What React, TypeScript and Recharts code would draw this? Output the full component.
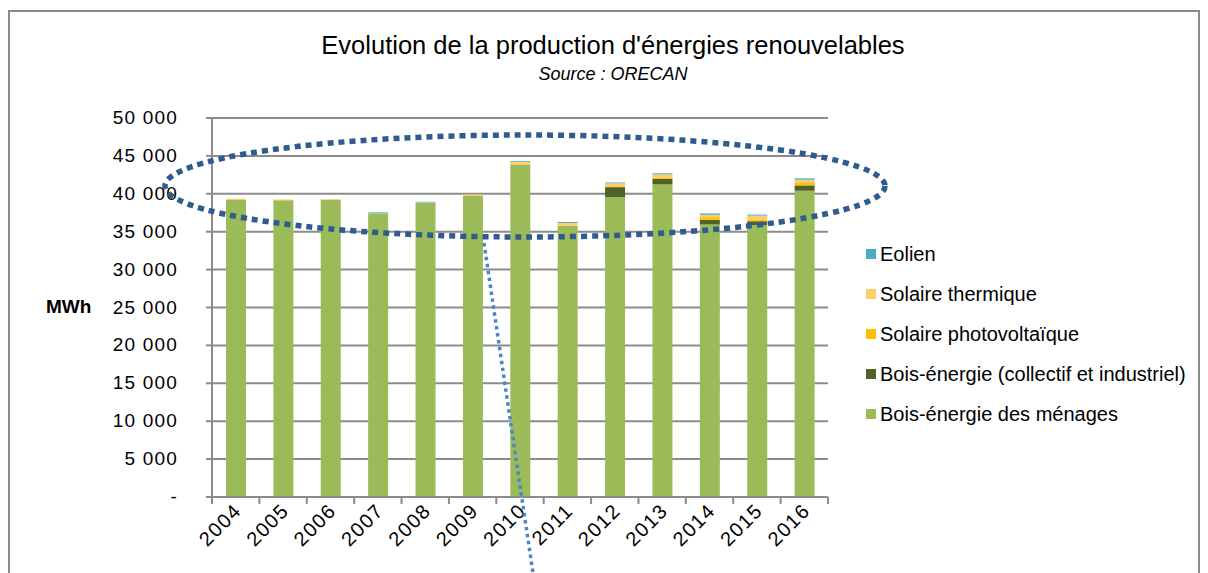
import React from "react";
import { BarChart, Bar, XAxis, YAxis, CartesianGrid } from "recharts";

const years = ["2004", "2005", "2006", "2007", "2008", "2009", "2010", "2011", "2012", "2013", "2014", "2015", "2016"];
const boisMenages = [39250, 39150, 39200, 37400, 38830, 39700, 43850, 35700, 39550, 41250, 35950, 35850, 40400];
const boisCollectif = [0, 0, 0, 0, 0, 0, 0, 50, 1330, 700, 620, 530, 710];
const solairePV = [0, 0, 0, 0, 0, 20, 50, 60, 120, 180, 350, 150, 310];
const solaireThermique = [120, 100, 80, 30, 40, 180, 300, 350, 380, 440, 310, 600, 440];
const eolien = [0, 0, 0, 120, 80, 0, 100, 120, 110, 130, 180, 130, 180];
const yTicks = [0, 5000, 10000, 15000, 20000, 25000, 30000, 35000, 40000, 45000, 50000];

const series = [
  { key: "boisMenages", name: "Bois-énergie des ménages", color: "#9BBB59", values: boisMenages },
  { key: "boisCollectif", name: "Bois-énergie (collectif et industriel)", color: "#4F6228", values: boisCollectif },
  { key: "solairePV", name: "Solaire photovoltaïque", color: "#FFC000", values: solairePV },
  { key: "solaireThermique", name: "Solaire thermique", color: "#FFCC66", values: solaireThermique },
  { key: "eolien", name: "Eolien", color: "#4BACC6", values: eolien },
];

const data = years.map((y, i) => {
  const row: Record<string, string | number> = { year: y };
  series.forEach((s) => {
    row[s.key] = s.values[i];
  });
  return row;
});

const FONT = "'Liberation Sans', Arial, sans-serif";
const W = 1208;
const H = 573;
const PLOT_LEFT = 212;
const PLOT_RIGHT = 828;
const PLOT_TOP = 118;
const PLOT_BOTTOM = 497;
const BAND = (PLOT_RIGHT - PLOT_LEFT) / years.length;

const fmt = (v: number) => (v === 0 ? "-" : v.toLocaleString("en-US").replace(/,/g, " "));

const YTick = (props: any) => {
  const { x, y, payload } = props;
  return (
    <text x={x - 26} y={y} dy={6} textAnchor="end" fontFamily={FONT} fontSize={19} fill="#000" letterSpacing={1.2}>
      {fmt(payload.value)}
    </text>
  );
};

const XTick = (props: any) => {
  const { x, payload, index } = props;
  const tx = x + 7;
  const ty = PLOT_BOTTOM + 15;
  return (
    <g>
      <line x1={x - BAND / 2} y1={PLOT_BOTTOM} x2={x - BAND / 2} y2={PLOT_BOTTOM + 7} stroke="#8c8c8c" strokeWidth={2} />
      {index === years.length - 1 && (
        <line x1={x + BAND / 2} y1={PLOT_BOTTOM} x2={x + BAND / 2} y2={PLOT_BOTTOM + 7} stroke="#8c8c8c" strokeWidth={2} />
      )}
      <text
        x={tx}
        y={ty}
        textAnchor="end"
        fontFamily={FONT}
        fontSize={20}
        letterSpacing={1.4}
        fill="#000"
        transform={`rotate(-45 ${tx} ${ty})`}
      >
        {payload.value}
      </text>
    </g>
  );
};

export default function App() {
  const legendItems = [...series].reverse();
  return (
    <div style={{ position: "absolute", left: 0, top: 0, width: W, height: H, background: "#fff", fontFamily: FONT }}>
      <BarChart
        width={W}
        height={H}
        data={data}
        margin={{ top: PLOT_TOP, right: W - PLOT_RIGHT, bottom: 0, left: 112 }}
        barSize={20}
      >
        <CartesianGrid horizontal vertical={false} stroke="#8c8c8c" strokeWidth={2} />
        <XAxis
          dataKey="year"
          tick={<XTick />}
          tickLine={false}
          axisLine={{ stroke: "#8c8c8c", strokeWidth: 2 }}
          interval={0}
          height={H - PLOT_BOTTOM}
        />
        <YAxis
          width={100}
          domain={[0, 50000]}
          ticks={yTicks}
          tick={<YTick />}
          tickLine={{ stroke: "#8c8c8c", strokeWidth: 2 }}
          tickSize={6}
          axisLine={{ stroke: "#8c8c8c", strokeWidth: 2 }}
          interval={0}
        />
        {series.map((s) => (
          <Bar key={s.key} dataKey={s.key} name={s.name} stackId="a" fill={s.color} isAnimationActive={false} />
        ))}
      </BarChart>

      {/* frame */}
      <div style={{ position: "absolute", left: 8, top: 10, width: 1188, height: 580, borderLeft: "2px solid #8c8c8c", borderTop: "2px solid #8c8c8c", borderRight: "2px solid #8c8c8c" }} />

      {/* titles */}
      <div style={{ position: "absolute", left: 9, width: W, top: 31, textAlign: "center", fontSize: 25.5, color: "#000" }}>
        Evolution de la production d'énergies renouvelables
      </div>
      <div style={{ position: "absolute", left: 9, width: W, top: 64, textAlign: "center", fontSize: 18, fontStyle: "italic", color: "#000" }}>
        Source : ORECAN
      </div>
      <div style={{ position: "absolute", left: 46, top: 296, fontSize: 19, fontWeight: "bold", color: "#000" }}>MWh</div>

      {/* legend */}
      {legendItems.map((s, i) => (
        <div key={s.key} style={{ position: "absolute", left: 866, top: 242 + i * 40, height: 24, display: "flex", alignItems: "center", fontSize: 20, color: "#000", whiteSpace: "nowrap" }}>
          <span style={{ display: "inline-block", width: 10, height: 10, background: s.color, marginRight: 4 }} />
          {s.name}
        </div>
      ))}

      {/* annotation overlay */}
      <svg width={W} height={H} style={{ position: "absolute", left: 0, top: 0, pointerEvents: "none" }}>
        <line x1={484} y1={243} x2={533} y2={573} stroke="#4A86C8" strokeWidth={3.5} strokeDasharray="3.5 3.5" />
        <ellipse cx={525} cy={186} rx={360} ry={51} fill="none" stroke="#2F5B8F" strokeWidth={5.5} strokeDasharray="6 5" />
      </svg>
    </div>
  );
}
